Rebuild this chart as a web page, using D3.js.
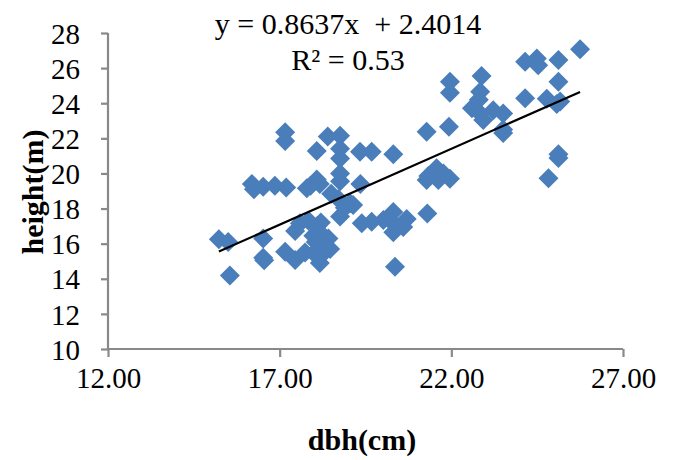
<!DOCTYPE html>
<html><head><meta charset="utf-8">
<script src="https://cdn.jsdelivr.net/npm/d3@7"></script>
<style>
html,body{margin:0;padding:0;background:#fff;}
text{font-family:"Liberation Serif","Times New Roman",serif;fill:#000;}
</style></head>
<body><svg id="chart" width="675" height="460"></svg>
<script>
const dbh = [15.23,15.50,15.55,16.52,16.52,16.55,17.16,17.45,17.45,17.74,17.59,17.84,18.10,17.98,18.05,18.32,18.03,18.27,18.13,18.17,18.42,18.37,18.47,18.20,
16.19,16.25,16.52,16.86,17.19,17.79,17.90,18.08,18.17,
17.16,17.16,18.08,18.40,18.76,18.76,18.76,18.76,19.34,19.68,20.31,
18.76,19.35,18.71,19.05,18.90,19.14,18.76,18.50,19.39,19.68,20.02,20.31,20.31,20.31,20.70,20.60,21.30,20.36,
21.28,21.62,21.96,21.57,21.77,21.33,21.28,21.93,21.96,21.96,22.88,22.84,22.60,22.84,22.93,23.22,23.51,23.51,23.51,22.80,
24.15,24.78,25.07,25.17,25.12,24.15,24.49,24.53,25.12,25.75,25.12,25.12,24.83];
const height = [16.25,16.10,14.18,16.30,15.20,15.05,15.54,15.07,16.72,15.50,17.16,17.30,17.02,16.45,16.10,16.35,15.54,15.45,15.20,14.90,16.30,15.83,15.70,17.20,
19.40,19.10,19.24,19.30,19.20,19.15,19.30,19.65,19.40,
22.35,21.85,21.28,22.10,22.15,21.40,20.85,20.00,21.24,21.24,21.10,
19.55,19.40,18.55,18.30,18.05,18.20,17.55,18.85,17.16,17.25,17.35,17.80,16.65,17.15,17.40,16.95,17.72,14.69,
19.62,19.62,19.70,20.30,20.00,19.85,22.37,22.66,25.22,24.60,25.55,24.65,23.71,23.42,23.04,23.60,23.42,22.30,22.50,24.20,
24.28,24.25,23.95,24.10,25.22,26.36,26.55,26.17,26.46,27.07,21.10,20.88,19.72];
const xTicks = [12,17,22,27];
const yTicks = [10,12,14,16,18,20,22,24,26,28];
const slope = 0.8637, intercept = 2.4014;
const eqLabel = "y = 0.8637x  + 2.4014";
const r2Label = "R\u00B2 = 0.53";
const xTitle = "dbh(cm)", yTitle = "height(m)";

const svg = d3.select("#chart");
const x = d3.scaleLinear().domain([12,27]).range([108,623]);
const y = d3.scaleLinear().domain([10,28]).range([349,33]);
const axisColor = "#898989";

const xa = svg.append("g").attr("transform","translate(0,349)")
  .call(d3.axisBottom(x).tickValues(xTicks).tickSize(8).tickPadding(10).tickFormat(d3.format(".2f")));
const ya = svg.append("g").attr("transform","translate(108,0)")
  .call(d3.axisLeft(y).tickValues(yTicks).tickSize(7).tickPadding(21).tickFormat(d3.format("d")));
[xa,ya].forEach(a=>{
  a.select(".domain").attr("stroke",axisColor).attr("stroke-width",2.2);
  a.selectAll(".tick line").attr("stroke",axisColor).attr("stroke-width",2.2);
  a.selectAll("text").style("font-family",'"Liberation Serif",serif').style("font-size","29px").attr("fill","#000");
});
xa.select(".domain").attr("d","M108,0H623");
ya.select(".domain").attr("d","M0,33V349");
ya.selectAll("text").attr("dy","0.35em");

const data = dbh.map((d,i)=>({x:d,y:height[i]}));
const sym = d3.symbol().type(d3.symbolSquare).size(200);
svg.append("g").selectAll("path").data(data).join("path")
  .attr("d",sym)
  .attr("transform",d=>`translate(${x(d.x)},${y(d.y)}) rotate(45)`)
  .attr("fill","#4a7ebb");

const xe = d3.extent(dbh);
svg.append("line")
  .attr("x1",x(xe[0])).attr("y1",y(slope*xe[0]+intercept))
  .attr("x2",x(xe[1])).attr("y2",y(slope*xe[1]+intercept))
  .attr("stroke","#000").attr("stroke-width",2.2);

svg.append("text").attr("x",348).attr("y",34).attr("text-anchor","middle")
  .style("font-size","30px").style("white-space","pre").text(eqLabel);
svg.append("text").attr("x",348).attr("y",70).attr("text-anchor","middle")
  .style("font-size","30px").text(r2Label);

svg.append("text").attr("x",362).attr("y",450).attr("text-anchor","middle")
  .style("font-size","30px").style("font-weight","bold").text(xTitle);
svg.append("text").attr("transform","translate(43,192) rotate(-90)").attr("text-anchor","middle")
  .style("font-size","30px").style("font-weight","bold").text(yTitle);
</script></body></html>
